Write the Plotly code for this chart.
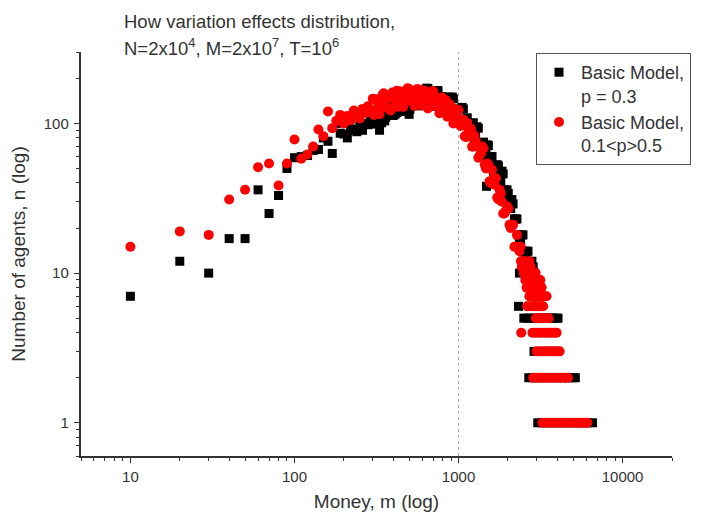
import math
import plotly.graph_objects as go

# ---------------- data ----------------
# Basic Model, p = 0.3  (black squares)
black_m_low = [10, 20, 30, 40, 50, 60, 70, 80, 90, 100, 110, 120, 130, 140, 150,
               160, 170, 180, 190, 200, 210, 220, 230, 240, 250, 260, 270, 280, 290]
black_n_low = [7, 12, 10, 17, 17, 36, 25, 33, 50, 59, 60, 61, 66, 67, 80,
               76, 63, 100, 86, 85, 80, 92, 90, 88, 96, 90, 100, 98, 105]

black_m_band = [300, 310, 320, 330, 340, 350, 360, 380, 390, 400,
                420, 430, 450, 460, 480, 500, 510, 530, 550, 570,
                590, 610, 630, 650, 680, 700, 730, 750, 780, 810,
                840, 870, 900, 930, 960, 1000, 1030, 1070, 1110, 1150,
                1190, 1230, 1270, 1320, 1370, 1420, 1470, 1520, 1570, 1630,
                1690, 1750, 1810, 1870, 1940, 2010, 2080, 2150, 2230, 2310,
                2390, 2470, 2560, 2650, 2740, 2840, 2940, 3040]
black_n_band = [99, 122, 107, 131, 101, 123, 110, 139, 126, 113,
                118, 145, 128, 155, 121, 148, 132, 163, 148, 131,
                135, 165, 143, 171, 131, 156, 137, 165, 145, 125,
                125, 150, 125, 146, 108, 125, 107, 125, 106, 89,
                86, 101, 83, 93, 67, 75, 62, 71, 60, 48,
                46, 52, 41, 46, 31, 34, 27, 29, 23, 18,
                16, 18, 13, 14, 10, 9, 8, 7]

black_m_band2 = [305, 315, 325, 335, 345, 355, 370, 385, 395, 410,
                 425, 440, 455, 470, 490, 505, 520, 540, 560, 580,
                 600, 620, 640, 665, 690, 715, 740, 765, 795, 825,
                 855, 885, 915, 945, 980, 1015, 1050, 1090, 1130, 1170,
                 1210, 1250, 1295, 1345, 1395, 1445, 1495, 1545, 1600, 1660,
                 1720, 1780, 1840, 1905, 1975, 2045, 2115, 2190, 2270, 2350,
                 2430, 2515, 2605, 2695, 2790, 2890, 2990]
black_n_band2 = [120, 101, 131, 109, 119, 104, 137, 116, 133, 115,
                 141, 120, 156, 131, 143, 124, 162, 137, 155, 133,
                 162, 135, 172, 143, 153, 130, 166, 136, 151, 125,
                 149, 121, 150, 121, 124, 103, 128, 101, 109, 88,
                 100, 79, 95, 73, 73, 59, 72, 57, 60, 47,
                 53, 41, 48, 36, 36, 27, 31, 23, 23, 17,
                 18, 14, 14, 11, 9, 9, 7]

black_m_extra = [330, 500, 1480]
black_n_extra = [90, 115, 38]

black_m_tail = [2450, 2650, 2800,
                2500, 2700, 2850,
                2350, 2550, 2750, 2900,
                2600, 2800, 3000,
                2700, 2950, 3150,
                2800, 3100, 3300,
                2320, 2700, 2900, 3100,
                2500, 2620, 2750, 2900, 3050, 3200, 3350, 3500, 3650, 3800, 3950, 4040,
                3000, 3300, 3600,
                2885, 3200, 3600, 4000,
                2680, 2850, 3000, 3200, 3400, 3600, 3800, 4000, 4200, 4450, 4700, 4950, 5150,
                3040, 3250, 3450, 3700, 3950, 4200, 4500, 4800, 5100, 5400, 5750, 6100, 6550]
black_n_tail = [12, 12, 12,
                11, 11, 11,
                10, 10, 10, 10,
                9, 9, 9,
                8, 8, 8,
                7, 7, 7,
                6, 6, 6, 6,
                5, 5, 5, 5, 5, 5, 5, 5, 5, 5, 5, 5,
                4, 4, 4,
                3, 3, 3, 3,
                2, 2, 2, 2, 2, 2, 2, 2, 2, 2, 2, 2, 2,
                1, 1, 1, 1, 1, 1, 1, 1, 1, 1, 1, 1, 1]

# Basic Model, 0.1<p>0.5  (red circles)
red_m_low = [10, 20, 30, 40, 50, 60, 70, 80, 90, 100, 110, 120, 130, 140, 150,
             160, 170, 180, 190, 200, 210, 220, 230, 240, 250, 260, 270, 280, 290]
red_n_low = [15, 19, 18, 31, 36, 51, 54, 38.5, 54, 78, 58, 62, 70, 91, 82,
             120, 93, 104, 114, 100, 112, 105, 122, 116, 108, 125, 118, 130, 124]

red_m_band = [300, 310, 320, 330, 340, 350, 360, 380, 390, 400,
              420, 430, 450, 460, 480, 500, 510, 530, 550, 570,
              590, 610, 630, 650, 680, 700, 730, 750, 780, 810,
              840, 870, 900, 930, 960, 1000, 1030, 1070, 1110, 1150,
              1190, 1230, 1270, 1320, 1370, 1420, 1470, 1520, 1570, 1630,
              1690, 1750, 1810, 1870, 1940, 2010, 2080, 2150, 2230, 2310,
              2390, 2470, 2560, 2650, 2740, 2840, 2940, 3040, 3150, 3260]
red_n_band = [146, 118, 140, 115, 136, 159, 129, 153, 126, 148,
              165, 133, 158, 129, 151, 170, 141, 164, 134, 154,
              168, 135, 156, 126, 145, 164, 130, 149, 119, 134,
              143, 112, 126, 100, 111, 123, 96, 106, 81, 89,
              92, 70, 77, 59, 63, 68, 50, 53, 40, 43,
              43, 31, 34, 25, 26, 27, 20, 21, 15, 15,
              15, 11, 11, 8, 9, 7, 8, 7, 9, 7]

red_m_band2 = [305, 315, 325, 335, 345, 355, 370, 385, 395, 410,
               425, 440, 455, 470, 490, 505, 520, 540, 560, 580,
               600, 620, 640, 665, 690, 715, 740, 765, 795, 825,
               855, 885, 915, 945, 980, 1015, 1050, 1090, 1130, 1170,
               1210, 1250, 1295, 1345, 1395, 1445, 1495, 1545, 1600, 1660,
               1720, 1780, 1840, 1905, 1975, 2045, 2115, 2190, 2270, 2350,
               2430, 2515, 2605, 2695, 2790, 2890, 2990, 3095, 3205]
red_n_band2 = [114, 145, 133, 124, 156, 131, 148, 122, 161, 142,
               129, 164, 150, 139, 172, 144, 161, 131, 170, 146,
               132, 165, 148, 134, 164, 134, 147, 117, 149, 126,
               111, 134, 118, 105, 124, 100, 106, 82, 101, 82,
               70, 83, 71, 61, 70, 53, 54, 41, 49, 39,
               32, 36, 30, 25, 28, 21, 21, 15, 18, 14,
               11, 12, 10, 8, 9, 6, 7, 6, 8]

red_m_tail = [2400, 2550, 2700,
              2450, 2600, 2750,
              2500, 2650, 2800, 2950,
              2550, 2700, 2850, 3000, 3120,
              2600, 2750, 2900, 3050, 3200,
              2700, 2850, 3000, 3150, 3300, 3440,
              2620, 2750, 2900, 3050, 3200, 3280,
              2960, 3100, 3250, 3400, 3540,
              2410, 2820, 2950, 3100, 3250, 3400, 3550, 3700, 3850, 3960,
              2990, 3150, 3300, 3450, 3600, 3800, 3950, 4130,
              2850, 3000, 3150, 3300, 3450, 3600, 3800, 4000, 4200, 4450, 4650,
              3250, 3400, 3600, 3800, 4000, 4250, 4500, 4750, 5000, 5300, 5600, 5850, 6100]
red_n_tail = [12, 12, 12,
              11, 11, 11,
              10, 10, 10, 10,
              9, 9, 9, 9, 9,
              8, 8, 8, 8, 8,
              7, 7, 7, 7, 7, 7,
              6, 6, 6, 6, 6, 6,
              5, 5, 5, 5, 5,
              4, 4, 4, 4, 4, 4, 4, 4, 4, 4,
              3, 3, 3, 3, 3, 3, 3, 3,
              2, 2, 2, 2, 2, 2, 2, 2, 2, 2, 2,
              1, 1, 1, 1, 1, 1, 1, 1, 1, 1, 1, 1, 1]

x_tick_vals = [10, 100, 1000, 10000]
x_tick_text = ["10", "100", "1000", "10000"]
y_tick_vals = [1, 10, 100]
y_tick_text = ["1", "10", "100"]
x_range = [5, 20000]
y_range = [0.6, 300]
ref_line_x = 1000

series_names = ["Basic Model,<br>p = 0.3", "Basic Model,<br>0.1&lt;p&gt;0.5"]
title_line1 = "How variation effects distribution,"
title_line2 = "N=2x10<sup>4</sup>, M=2x10<sup>7</sup>, T=10<sup>6</sup>"

# ---------------- figure ----------------
FONT = "Liberation Sans, Arial, sans-serif"
TXT = "#333333"

# the page body adds an 8px margin, so the figure is 8px smaller
W, H = 704, 507
L, R, T, B = 73, 40, 44, 59
PW, PH = W - L - R, H - T - B


def px_to_paper_x(px):
    return (px - 8 - L) / PW


def px_to_paper_y(py):
    return 1 - (py - 8 - T) / PH


fig = go.Figure()
fig.add_trace(go.Scatter(
    x=black_m_low + black_m_band + black_m_band2 + black_m_extra + black_m_tail,
    y=black_n_low + black_n_band + black_n_band2 + black_n_extra + black_n_tail,
    mode="markers", name=series_names[0],
    marker=dict(symbol="square", size=9, color="#000000", line=dict(width=0)),
))
fig.add_trace(go.Scatter(
    x=red_m_low + red_m_band + red_m_band2 + red_m_tail,
    y=red_n_low + red_n_band + red_n_band2 + red_n_tail,
    mode="markers", name=series_names[1],
    marker=dict(symbol="circle", size=10, color="#ff0000", line=dict(width=0)),
))

fig.add_shape(type="line", xref="x", yref="paper",
              x0=ref_line_x, x1=ref_line_x, y0=0, y1=1,
              line=dict(color="#b0b0b0", width=1, dash="dot"), layer="below")

axis_common = dict(
    type="log", showgrid=False, zeroline=False, showline=True,
    linecolor="#333333", linewidth=1.5, ticks="outside", ticklen=5.5,
    tickwidth=1.2, tickcolor="#333333", mirror=False,
    tickfont=dict(family=FONT, size=15, color=TXT),
    minor=dict(ticks="outside", ticklen=3.5, tickwidth=1.1,
               tickcolor="#333333", dtick="D1", showgrid=False),
)

fig.update_layout(
    width=W, height=H,
    margin=dict(l=L, r=R, t=T, b=B),
    paper_bgcolor="white", plot_bgcolor="white",
    font=dict(family=FONT, color=TXT),
    xaxis=dict(axis_common, range=[math.log10(x_range[0]), math.log10(x_range[1])],
               tickvals=x_tick_vals, ticktext=x_tick_text, ticklabelstandoff=1,
               title=dict(text="Money, m (log)", standoff=10,
                          font=dict(family=FONT, size=19, color=TXT))),
    yaxis=dict(axis_common, range=[math.log10(y_range[0]), math.log10(y_range[1])],
               tickvals=y_tick_vals, ticktext=y_tick_text, ticklabelstandoff=2,
               title=dict(text="Number of agents, n (log)", standoff=14,
                          font=dict(family=FONT, size=19, color=TXT))),
    legend=dict(x=px_to_paper_x(536), y=px_to_paper_y(53), xanchor="left", yanchor="top",
                bordercolor="#555555", borderwidth=1, bgcolor="white",
                font=dict(family=FONT, size=18, color=TXT), valign="top",
                tracegroupgap=0, itemwidth=34),
    showlegend=True,
    annotations=[
        dict(text=title_line1, xref="paper", yref="paper",
             x=px_to_paper_x(122), y=px_to_paper_y(22), xanchor="left", yanchor="middle",
             showarrow=False, font=dict(family=FONT, size=18.5, color=TXT)),
        dict(text=title_line2, xref="paper", yref="paper",
             x=px_to_paper_x(122), y=px_to_paper_y(47), xanchor="left", yanchor="middle",
             showarrow=False, font=dict(family=FONT, size=18.5, color=TXT)),
    ],
)
fig.update_xaxes(automargin=False)
fig.update_yaxes(automargin=False)

fig.write_html("out.html")
